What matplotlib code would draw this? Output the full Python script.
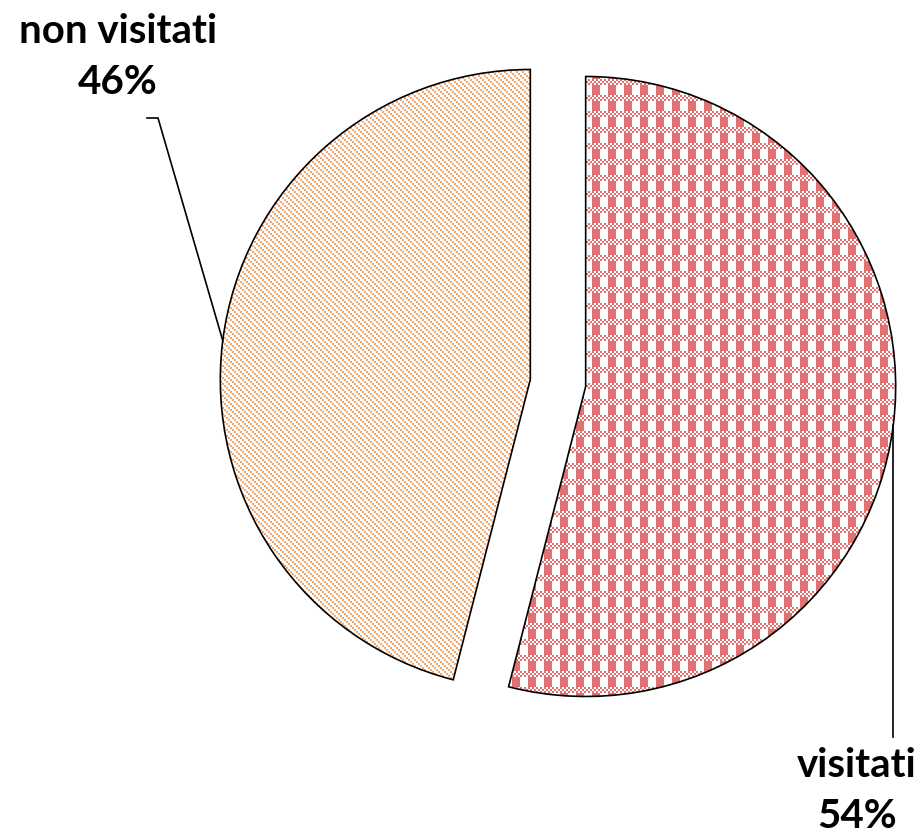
import numpy as np
import matplotlib
matplotlib.use("Agg")
import matplotlib.pyplot as plt

labels = ["visitati", "non visitati"]
values = [54, 46]
colors = ["#E07272", "#F9A66C"]

W, H = 922, 837
fig = plt.figure(figsize=(W / 100, H / 100), dpi=100)
ax = fig.add_axes([0, 0, 1, 1])

# pixel position of the pie centre and radius in the reference
cx, cy, rad = 558, 384, 310
explode = 0.09

wedges, _ = ax.pie(values, startangle=90, counterclock=False,
                   explode=[explode, explode],
                   wedgeprops=dict(facecolor="none", edgecolor="black",
                                   linewidth=1.2, zorder=3))

x0, x1 = -cx / rad, (W - cx) / rad
y0, y1 = (cy - H) / rad, cy / rad
ax.set_xlim(x0, x1)
ax.set_ylim(y0, y1)
ax.set_aspect("equal")
ax.axis("off")

def to_data(px, py):
    return (px - cx) / rad, (cy - py) / rad

# fill patterns (plaid for red, dotted diagonals for orange)
yy, xx = np.indices((H, W))
check = (xx // 2 + yy // 2) % 2 == 0
plaid = np.where(yy % 16 < 6, check, xx % 16 < 8)
diag = (xx // 2 - yy // 2) % 3 == 0

for w, mask, col in zip(wedges, [plaid, diag], colors):
    img = np.zeros((H, W, 4))
    img[mask] = matplotlib.colors.to_rgba(col)
    im = ax.imshow(img, extent=(x0, x1, y0, y1), origin="upper",
                   interpolation="nearest", zorder=2)
    im.set_clip_path(w)
    ax.set_xlim(x0, x1)
    ax.set_ylim(y0, y1)

# anchors on the arcs at each wedge's bisector
def anchor(w):
    ang = np.deg2rad((w.theta1 + w.theta2) / 2)
    return w.center[0] + w.r * np.cos(ang), w.center[1] + w.r * np.sin(ang)

pcts = [f"{v}%" for v in values]
txt = dict(fontsize=29, fontweight="bold", family=["Lato", "DejaVu Sans"],
           ha="center", va="center", linespacing=1.45)

# visitati: vertical leader down to the label
ax0, ay0 = anchor(wedges[0])
_, ly = to_data(0, 738)
ax.plot([ax0, ax0], [ay0, ly], color="black", lw=1.2)
tx, ty = to_data(857, 791)
ax.text(tx, ty, f"{labels[0]}\n{pcts[0]}", **txt)

# non visitati: elbow leader up to the label
ax1, ay1 = anchor(wedges[1])
ex, ey = to_data(158, 119)
hx, _ = to_data(147, 119)
ax.plot([ax1, ex, hx], [ay1, ey, ey], color="black", lw=1.2)
tx, ty = to_data(118, 57)
ax.text(tx, ty, f"{labels[1]}\n{pcts[1]}", **txt)

fig.savefig("out.png", dpi=100)
